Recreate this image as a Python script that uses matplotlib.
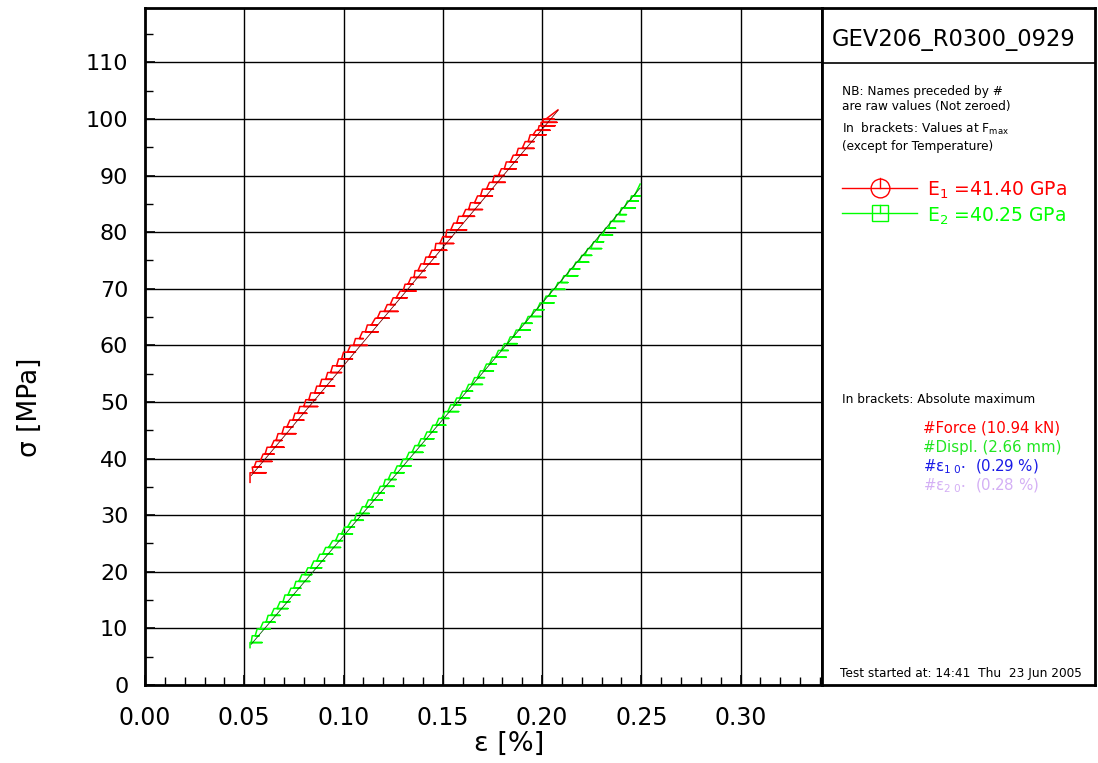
import matplotlib
matplotlib.use("Agg")
import matplotlib.pyplot as plt

plt.rcParams['font.family'] = ['DejaVu Sans']
plt.rcParams['mathtext.fontset'] = 'dejavusans'
plt.rcParams['mathtext.default'] = 'regular'

# ---------------- data ----------------
red_start = (0.0529, 35.8)
red_end = (0.2080, 101.6)
red_stress_levels = [37.5, 38.5, 39.5, 40.8, 42.0, 43.2, 44.4, 45.6, 46.8, 48.0, 49.2, 50.4,
                     51.6, 52.8, 54.0, 55.2, 56.4, 57.6, 58.8, 60.0, 61.2, 62.4, 63.6, 64.8,
                     66.0, 67.2, 68.4, 69.6, 70.8, 72.0, 73.2, 74.4, 75.6, 76.8, 78.0, 79.2,
                     80.4, 81.6, 82.8, 84.0, 85.2, 86.4, 87.6, 88.8, 90.0, 91.2, 92.4, 93.6,
                     94.8, 96.0, 97.2, 98.0, 98.8, 99.4, 100.0]
red_strain_left = [0.0529, 0.0540, 0.0560, 0.0595, 0.0615, 0.0650, 0.0670, 0.0700, 0.0730, 0.0755,
                   0.0780, 0.0810, 0.0835, 0.0865, 0.0890, 0.0920, 0.0945, 0.0975, 0.1000, 0.1035,
                   0.1060, 0.1095, 0.1120, 0.1160, 0.1185, 0.1220, 0.1250, 0.1285, 0.1310, 0.1340,
                   0.1360, 0.1390, 0.1415, 0.1445, 0.1465, 0.1500, 0.1520, 0.1555, 0.1580, 0.1615,
                   0.1640, 0.1675, 0.1700, 0.1735, 0.1760, 0.1795, 0.1820, 0.1855, 0.1880, 0.1915,
                   0.1940, 0.1970, 0.1985, 0.1995, 0.2005]
red_strain_right = [0.0610, 0.0585, 0.0640, 0.0650, 0.0700, 0.0690, 0.0760, 0.0745, 0.0800, 0.0815,
                    0.0870, 0.0860, 0.0900, 0.0955, 0.0945, 0.0990, 0.1000, 0.1045, 0.1060, 0.1120,
                    0.1100, 0.1175, 0.1170, 0.1230, 0.1275, 0.1260, 0.1320, 0.1365, 0.1350, 0.1415,
                    0.1410, 0.1480, 0.1465, 0.1520, 0.1555, 0.1545, 0.1620, 0.1600, 0.1660, 0.1700,
                    0.1690, 0.1750, 0.1755, 0.1815, 0.1810, 0.1870, 0.1875, 0.1925, 0.1960, 0.1960,
                    0.2020, 0.2040, 0.2065, 0.2075, 0.2060]
red_strain_back = [0.0545, 0.0550, 0.0580, 0.0605, 0.0635, 0.0660, 0.0690, 0.0715, 0.0745, 0.0770,
                   0.0800, 0.0825, 0.0855, 0.0880, 0.0910, 0.0935, 0.0965, 0.0990, 0.1020, 0.1050,
                   0.1080, 0.1110, 0.1140, 0.1170, 0.1205, 0.1235, 0.1265, 0.1300, 0.1325, 0.1355,
                   0.1375, 0.1405, 0.1430, 0.1460, 0.1485, 0.1515, 0.1540, 0.1570, 0.1600, 0.1630,
                   0.1660, 0.1690, 0.1720, 0.1750, 0.1780, 0.1810, 0.1840, 0.1870, 0.1900, 0.1930,
                   0.1955, 0.1980, 0.1995, 0.2005, 0.2020]

green_start = (0.0529, 6.6)
green_end = (0.2494, 88.5)
green_stress_levels = [7.5, 8.7, 9.9, 11.1, 12.3, 13.5, 14.7, 15.9, 17.1, 18.3, 19.5, 20.7,
                       21.9, 23.1, 24.3, 25.5, 26.7, 27.9, 29.1, 30.3, 31.5, 32.7, 33.9, 35.1,
                       36.3, 37.5, 38.7, 39.9, 41.1, 42.3, 43.5, 44.7, 45.9, 47.1, 48.3, 49.5,
                       50.7, 51.9, 53.1, 54.3, 55.5, 56.7, 57.9, 59.1, 60.3, 61.5, 62.7, 63.9,
                       65.1, 66.3, 67.5, 68.7, 69.9, 71.1, 72.3, 73.5, 74.7, 75.9, 77.1, 78.3,
                       79.5, 80.7, 81.9, 83.1, 84.3, 85.5, 86.4]
green_strain_left = [0.0529, 0.0540, 0.0565, 0.0595, 0.0620, 0.0650, 0.0680, 0.0705, 0.0735, 0.0760,
                     0.0790, 0.0820, 0.0850, 0.0880, 0.0910, 0.0945, 0.0975, 0.1005, 0.1040, 0.1065,
                     0.1095, 0.1125, 0.1155, 0.1185, 0.1210, 0.1240, 0.1270, 0.1300, 0.1330, 0.1360,
                     0.1390, 0.1420, 0.1450, 0.1480, 0.1510, 0.1540, 0.1570, 0.1600, 0.1630, 0.1660,
                     0.1690, 0.1720, 0.1750, 0.1780, 0.1810, 0.1840, 0.1870, 0.1900, 0.1930, 0.1960,
                     0.1990, 0.2020, 0.2050, 0.2080, 0.2110, 0.2140, 0.2170, 0.2200, 0.2230, 0.2260,
                     0.2290, 0.2320, 0.2345, 0.2375, 0.2400, 0.2430, 0.2450]
green_strain_right = [0.0590, 0.0575, 0.0630, 0.0655, 0.0680, 0.0720, 0.0730, 0.0780, 0.0785, 0.0830,
                      0.0840, 0.0890, 0.0905, 0.0945, 0.0985, 0.0995, 0.1045, 0.1055, 0.1100, 0.1130,
                      0.1150, 0.1195, 0.1205, 0.1255, 0.1265, 0.1305, 0.1340, 0.1345, 0.1400, 0.1410,
                      0.1455, 0.1470, 0.1515, 0.1530, 0.1580, 0.1590, 0.1635, 0.1650, 0.1700, 0.1710,
                      0.1755, 0.1770, 0.1820, 0.1830, 0.1875, 0.1890, 0.1940, 0.1950, 0.1995, 0.2010,
                      0.2060, 0.2070, 0.2115, 0.2130, 0.2180, 0.2190, 0.2235, 0.2250, 0.2300, 0.2310,
                      0.2355, 0.2370, 0.2415, 0.2425, 0.2470, 0.2485, 0.2494]
green_strain_back = [0.0535, 0.0555, 0.0580, 0.0610, 0.0635, 0.0665, 0.0695, 0.0720, 0.0750, 0.0775,
                     0.0805, 0.0835, 0.0865, 0.0895, 0.0925, 0.0960, 0.0990, 0.1020, 0.1055, 0.1080,
                     0.1110, 0.1140, 0.1170, 0.1200, 0.1225, 0.1255, 0.1285, 0.1315, 0.1345, 0.1375,
                     0.1405, 0.1435, 0.1465, 0.1495, 0.1525, 0.1555, 0.1585, 0.1615, 0.1645, 0.1675,
                     0.1705, 0.1735, 0.1765, 0.1795, 0.1825, 0.1855, 0.1885, 0.1915, 0.1945, 0.1975,
                     0.2005, 0.2035, 0.2065, 0.2095, 0.2125, 0.2155, 0.2185, 0.2215, 0.2245, 0.2275,
                     0.2305, 0.2335, 0.2360, 0.2390, 0.2415, 0.2445, 0.2465]

red_fit_strain = [0.0535, 0.2080]
red_fit_stress = [37.0, 101.5]
green_fit_strain = [0.0535, 0.2494]
green_fit_stress = [7.2, 87.8]

x_ticks = [0.00, 0.05, 0.10, 0.15, 0.20, 0.25, 0.30]
x_tick_labels = ["0.00", "0.05", "0.10", "0.15", "0.20", "0.25", "0.30"]
y_ticks = [0, 10, 20, 30, 40, 50, 60, 70, 80, 90, 100, 110]
y_tick_labels = [str(v) for v in y_ticks]

title = "GEV206_R0300_0929"
E1_text = "E$_1$ =41.40 GPa"
E2_text = "E$_2$ =40.25 GPa"
max_texts = ["#Force (10.94 kN)", "#Displ. (2.66 mm)",
             "#ε$_{1\\;0^{\\bullet}}$  (0.29 %)", "#ε$_{2\\;0^{\\bullet}}$  (0.28 %)"]
max_colors = ["#ff0000", "#22e622", "#1a1ae6", "#d4b0f5"]

RED = "#ff0000"
GREEN = "#00ff00"


def build(start, end, levels, left, right, back):
    xs, ys = [start[0]], [start[1]]
    for s, l, r, b in zip(levels, left, right, back):
        xs += [l, r, b]
        ys += [s, s, s]
    xs.append(end[0])
    ys.append(end[1])
    return xs, ys


# ---------------- figure ----------------
W, H = 1098, 763
fig = plt.figure(figsize=(W / 100, H / 100), dpi=100)

L, R, T, B = 145, 822, 8, 685
ax = fig.add_axes([L / W, 1 - B / H, (R - L) / W, (B - T) / H])
ax.set_xlim(0, 0.341)
ax.set_ylim(0, 119.6)

for v in x_ticks[1:]:
    ax.axvline(v, color="black", lw=1.0, zorder=1)
for v in y_ticks[1:]:
    ax.axhline(v, color="black", lw=1.0, zorder=1)

rx, ry = build(red_start, red_end, red_stress_levels, red_strain_left, red_strain_right, red_strain_back)
gx, gy = build(green_start, green_end, green_stress_levels, green_strain_left, green_strain_right,
               green_strain_back)
ax.plot(rx, ry, color=RED, lw=1.1, zorder=3)
ax.plot(gx, gy, color=GREEN, lw=1.1, zorder=3)
ax.plot(red_fit_strain, red_fit_stress, color="#7a0000", lw=0.6, zorder=4)
ax.plot(green_fit_strain, green_fit_stress, color="#006400", lw=0.6, zorder=4)

ax.set_xticks(x_ticks)
ax.set_xticklabels(x_tick_labels, fontsize=17)
ax.set_yticks(y_ticks)
ax.set_yticklabels(y_tick_labels, fontsize=16)
ax.set_xticks([i * 0.01 for i in range(0, 35)], minor=True)
ax.set_yticks([i * 5 for i in range(0, 24)], minor=True)
ax.tick_params(axis="both", which="major", direction="in", length=7, width=1.2, colors="black")
ax.tick_params(axis="both", which="minor", direction="in", length=6, width=1.0)
ax.tick_params(axis="x", which="major", pad=15)
ax.tick_params(axis="y", which="major", pad=12)
ax.tick_params(top=False, right=False, which="both")
for sp in ax.spines.values():
    sp.set_linewidth(2.0)
    sp.set_color("black")

fig.text(509 / W, 1 - 751 / H, "ε [%]", fontsize=19.5, ha="center", va="baseline")
fig.text(30 / W, 1 - 407 / H, "σ [MPa]", fontsize=19, ha="center", va="center", rotation=90)

# ---------------- right panel ----------------
PL, PR = 822, 1095
pax = fig.add_axes([PL / W, 1 - B / H, (PR - PL) / W, (B - T) / H])
pax.set_xlim(PL, PR)
pax.set_ylim(B, T)
pax.set_xticks([])
pax.set_yticks([])
for sp in pax.spines.values():
    sp.set_linewidth(2.0)
    sp.set_color("black")
pax.plot([PL, PR], [63, 63], color="black", lw=1.2)

pax.text(832, 46, title, fontsize=16.3, ha="left", va="baseline")

small = 8.7
pax.text(842, 95, "NB: Names preceded by #", fontsize=small, ha="left", va="baseline")
pax.text(842, 110, "are raw values (Not zeroed)", fontsize=small, ha="left", va="baseline")
pax.text(842, 133, "In  brackets: Values at F$_{max}$", fontsize=small, ha="left", va="baseline")
pax.text(842, 150, "(except for Temperature)", fontsize=small, ha="left", va="baseline")

# legend entries
pax.plot([842, 917], [188, 188], color=RED, lw=1.0)
pax.plot([880], [188], marker="o", ms=13.5, mfc="none", mec=RED, mew=1.0)
pax.plot([880, 880], [188, 178.5], color=RED, lw=1.0)
pax.text(927, 196, E1_text, fontsize=13.5, color=RED, ha="left", va="baseline")

pax.plot([842, 917], [213, 213], color=GREEN, lw=1.0)
pax.plot([880], [213], marker="s", ms=11.5, mfc="none", mec=GREEN, mew=1.0)
pax.plot([880, 880], [213, 205], color=GREEN, lw=1.0)
pax.text(927, 221.5, E2_text, fontsize=13.5, color=GREEN, ha="left", va="baseline")

pax.text(842, 403, "In brackets: Absolute maximum", fontsize=small, ha="left", va="baseline")
for i, (t, c) in enumerate(zip(max_texts, max_colors)):
    pax.text(923, 433 + i * 19.0, t, fontsize=10.8, color=c, ha="left", va="baseline")

pax.text(840, 677, "Test started at: 14:41  Thu  23 Jun 2005", fontsize=small, ha="left", va="baseline")

fig.savefig("out.png", dpi=100)
